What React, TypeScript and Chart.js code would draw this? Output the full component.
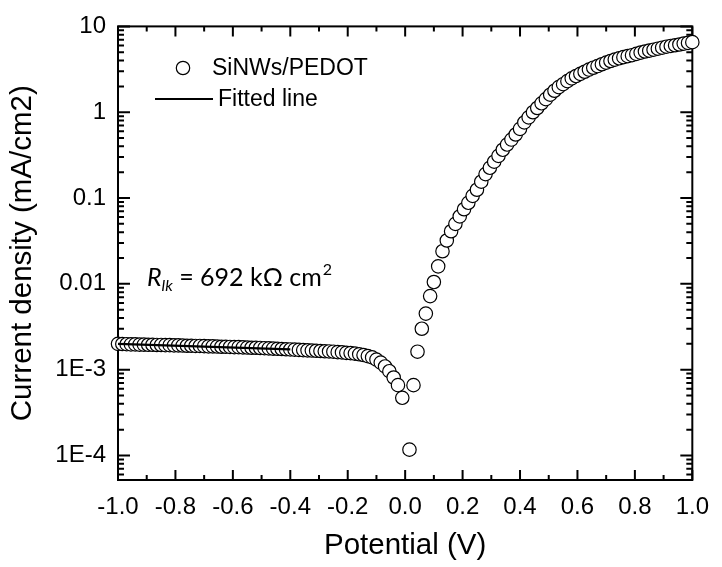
import React, { useEffect, useRef } from "react";
import { Chart, registerables } from "chart.js";

Chart.register(...registerables);

// Measured data (Potential in V, current density in mA/cm2)
const potentials = [
  -1.0, -0.985, -0.97, -0.955, -0.94, -0.925, -0.91, -0.895, -0.88, -0.865,
  -0.85, -0.835, -0.82, -0.805, -0.79, -0.775, -0.76, -0.745, -0.73, -0.715,
  -0.7, -0.685, -0.67, -0.655, -0.64, -0.625, -0.61, -0.595, -0.58, -0.565,
  -0.55, -0.535, -0.52, -0.505, -0.49, -0.475, -0.46, -0.445, -0.43, -0.415,
  -0.4, -0.385, -0.37, -0.355, -0.34, -0.325, -0.31, -0.295, -0.28, -0.265,
  -0.25, -0.235, -0.22, -0.205, -0.19, -0.175, -0.16, -0.145, -0.13, -0.115,
  -0.1, -0.085, -0.07, -0.055, -0.04, -0.025, -0.01,
  0.015, 0.029, 0.043, 0.058, 0.072, 0.087,
  0.1, 0.115, 0.13, 0.145, 0.16, 0.175, 0.19, 0.205, 0.22, 0.235,
  0.25, 0.265, 0.28, 0.295, 0.31, 0.325, 0.34, 0.355, 0.37, 0.385,
  0.4, 0.415, 0.43, 0.445, 0.46, 0.475, 0.49, 0.505, 0.52, 0.535,
  0.55, 0.565, 0.58, 0.595, 0.61, 0.625, 0.64, 0.655, 0.67, 0.685,
  0.7, 0.715, 0.73, 0.745, 0.76, 0.775, 0.79, 0.805, 0.82, 0.835,
  0.85, 0.865, 0.88, 0.895, 0.91, 0.925, 0.94, 0.955, 0.97, 0.985, 1.0,
];

const currentDensity = [
  2.0e-3, 1.99e-3, 1.98e-3, 1.97e-3, 1.97e-3, 1.96e-3, 1.96e-3, 1.95e-3, 1.95e-3, 1.94e-3,
  1.94e-3, 1.93e-3, 1.93e-3, 1.92e-3, 1.92e-3, 1.91e-3, 1.9e-3, 1.9e-3, 1.89e-3, 1.89e-3,
  1.88e-3, 1.87e-3, 1.87e-3, 1.86e-3, 1.85e-3, 1.85e-3, 1.84e-3, 1.83e-3, 1.83e-3, 1.82e-3,
  1.81e-3, 1.8e-3, 1.8e-3, 1.79e-3, 1.78e-3, 1.77e-3, 1.76e-3, 1.75e-3, 1.74e-3, 1.73e-3,
  1.72e-3, 1.71e-3, 1.7e-3, 1.69e-3, 1.68e-3, 1.67e-3, 1.66e-3, 1.65e-3, 1.64e-3, 1.63e-3,
  1.62e-3, 1.6e-3, 1.59e-3, 1.57e-3, 1.56e-3, 1.54e-3, 1.51e-3, 1.48e-3, 1.44e-3, 1.39e-3,
  1.31e-3, 1.21e-3, 1.09e-3, 9.6e-4, 8.1e-4, 6.6e-4, 4.7e-4,
  1.17e-4, 6.6e-4, 1.62e-3, 3.0e-3, 4.5e-3, 7.2e-3,
  0.0105, 0.016, 0.024, 0.032, 0.041, 0.05, 0.061, 0.074, 0.088, 0.106,
  0.125, 0.155, 0.19, 0.225, 0.265, 0.31, 0.365, 0.42, 0.48, 0.55,
  0.64, 0.76, 0.87, 1.0, 1.12, 1.27, 1.42, 1.6, 1.78, 1.96,
  2.12, 2.3, 2.48, 2.64, 2.8, 2.96, 3.14, 3.3, 3.45, 3.62,
  3.78, 3.95, 4.1, 4.25, 4.38, 4.5, 4.62, 4.78, 4.95, 5.1,
  5.22, 5.35, 5.5, 5.65, 5.8, 5.92, 6.03, 6.15, 6.3, 6.42, 6.55,
];

// Ohmic leakage fit
const fitPotential = [-1.0, -0.4];
const fitCurrent = [2.0e-3, 1.72e-3];

const xTickValues = [-1.0, -0.8, -0.6, -0.4, -0.2, 0.0, 0.2, 0.4, 0.6, 0.8, 1.0];
const xTickLabels = ["-1.0", "-0.8", "-0.6", "-0.4", "-0.2", "0.0", "0.2", "0.4", "0.6", "0.8", "1.0"];
const yTickValues = [1e-4, 1e-3, 1e-2, 0.1, 1, 10];
const yTickLabels = ["1E-4", "1E-3", "0.01", "0.1", "1", "10"];

const seriesLabel = "SiNWs/PEDOT";
const fitLabel = "Fitted line";
const xTitle = "Potential (V)";
const yTitle = "Current density (mA/cm2)";

const SANS = "'Liberation Sans', Arial, sans-serif";
const ANNOT = "Lato, 'Open Sans', sans-serif";

const framePlugin = {
  id: "frame",
  beforeDatasetsDraw(chart: any) {
    const { ctx, chartArea: a, scales } = chart;
    const xs = scales.x;
    const ys = scales.y;
    ctx.save();
    ctx.strokeStyle = "#000";
    ctx.lineWidth = 2;
    ctx.lineCap = "square";
    ctx.strokeRect(a.left, a.top, a.right - a.left, a.bottom - a.top);
    ctx.lineCap = "butt";
    for (let i = -10; i <= 10; i++) {
      const px = xs.getPixelForValue(i / 10);
      const len = i % 2 === 0 ? 10 : 5;
      ctx.beginPath();
      ctx.moveTo(px, a.bottom);
      ctx.lineTo(px, a.bottom - len);
      ctx.moveTo(px, a.top);
      ctx.lineTo(px, a.top + len);
      ctx.stroke();
    }
    for (let e = -5; e <= 1; e++) {
      for (let m = 1; m <= 9; m++) {
        const v = m * Math.pow(10, e);
        if (v < ys.min * 0.999 || v > ys.max * 1.001) continue;
        const py = ys.getPixelForValue(v);
        const len = m === 1 ? 12 : 6;
        ctx.beginPath();
        ctx.moveTo(a.left, py);
        ctx.lineTo(a.left + len, py);
        ctx.moveTo(a.right, py);
        ctx.lineTo(a.right - len, py);
        ctx.stroke();
      }
    }
    ctx.restore();
  },
  afterDraw(chart: any) {
    const { ctx } = chart;
    ctx.save();
    // Legend
    ctx.strokeStyle = "#000";
    ctx.lineWidth = 1.2;
    ctx.beginPath();
    ctx.arc(183, 68, 6.7, 0, Math.PI * 2);
    ctx.fillStyle = "#fff";
    ctx.fill();
    ctx.stroke();
    ctx.lineWidth = 2;
    ctx.beginPath();
    ctx.moveTo(155, 99);
    ctx.lineTo(213, 99);
    ctx.stroke();
    ctx.fillStyle = "#000";
    ctx.font = `23px ${SANS}`;
    ctx.textBaseline = "middle";
    ctx.textAlign = "left";
    ctx.fillText(seriesLabel, 212, 69);
    ctx.fillText(fitLabel, 218, 100);

    // Annotation R_lk = 692 kΩ cm²
    const base = 286;
    let x = 147;
    ctx.textBaseline = "alphabetic";
    ctx.font = `italic 25px ${ANNOT}`;
    ctx.fillText("R", x, base);
    x += ctx.measureText("R").width;
    ctx.font = `italic 16px ${ANNOT}`;
    ctx.fillText("lk", x, base + 5);
    x += ctx.measureText("lk").width;
    ctx.font = `25px ${ANNOT}`;
    const mid = " = 692 k\u03A9 cm";
    ctx.fillText(mid, x, base);
    x += ctx.measureText(mid).width;
    ctx.font = `16px ${ANNOT}`;
    ctx.fillText("2", x + 1, base - 11);
    ctx.restore();
  },
};

export default function App() {
  const canvasRef = useRef<HTMLCanvasElement | null>(null);

  useEffect(() => {
    const canvas = canvasRef.current;
    if (!canvas) return;
    const scatterData = potentials.map((v, i) => ({ x: v, y: currentDensity[i] }));
    const fitData = fitPotential.map((v, i) => ({ x: v, y: fitCurrent[i] }));

    const chart = new Chart(canvas, {
      type: "scatter",
      data: {
        datasets: [
          {
            label: fitLabel,
            type: "line",
            data: fitData,
            borderColor: "#000",
            borderWidth: 2.2,
            pointRadius: 0,
            showLine: true,
            fill: false,
            order: 0,
            clip: false,
          } as any,
          {
            label: seriesLabel,
            data: scatterData,
            pointStyle: "circle",
            pointRadius: 6.7,
            pointHoverRadius: 6.7,
            pointBorderWidth: 1.2,
            borderColor: "#000",
            backgroundColor: "#fff",
            pointBackgroundColor: "#fff",
            pointBorderColor: "#000",
            order: 1,
            clip: false,
          } as any,
        ],
      },
      options: {
        responsive: false,
        animation: false,
        devicePixelRatio: 1,
        events: [],
        layout: { padding: { top: 17, right: 19, left: 0, bottom: 0 } },
        plugins: {
          legend: { display: false },
          tooltip: { enabled: false },
        },
        scales: {
          x: {
            type: "linear",
            min: -1,
            max: 1,
            grid: { display: false, drawTicks: false },
            border: { display: false },
            afterBuildTicks: (s: any) => {
              s.ticks = xTickValues.map((v) => ({ value: v }));
            },
            afterFit: (s: any) => {
              s.height = 87;
            },
            ticks: {
              padding: 13,
              color: "#000",
              font: { family: SANS, size: 24 },
              maxRotation: 0,
              autoSkip: false,
              callback: (_v: any, i: number) => xTickLabels[i],
            },
            title: {
              display: true,
              text: xTitle,
              color: "#000",
              font: { family: SANS, size: 29.5 },
              padding: { top: 0, bottom: 3 },
            },
          },
          y: {
            type: "logarithmic",
            min: 5.18e-5,
            max: 10,
            grid: { display: false, drawTicks: false },
            border: { display: false },
            afterBuildTicks: (s: any) => {
              s.ticks = yTickValues.map((v) => ({ value: v }));
            },
            afterFit: (s: any) => {
              s.width = 118;
            },
            ticks: {
              padding: 12,
              color: "#000",
              font: { family: SANS, size: 24 },
              autoSkip: false,
              callback: (_v: any, i: number) => yTickLabels[i],
            },
            title: {
              display: true,
              text: yTitle,
              color: "#000",
              font: { family: SANS, size: 29.5 },
              padding: { top: 5, bottom: 0 },
            },
          },
        },
      },
      plugins: [framePlugin],
    } as any);

    return () => {
      chart.destroy();
    };
  }, []);

  return (
    <div style={{ position: "fixed", left: 0, top: 0, width: 722, height: 567, background: "#fff" }}>
      <canvas ref={canvasRef} width={722} height={567} style={{ display: "block" }} />
    </div>
  );
}
